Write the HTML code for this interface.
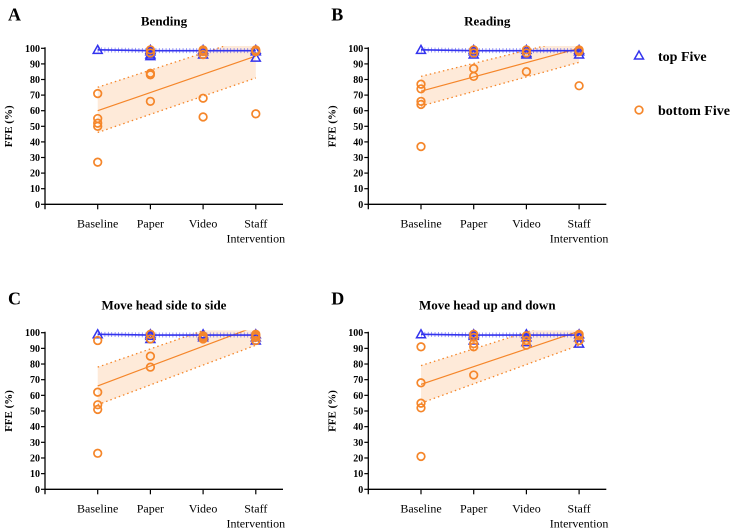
<!DOCTYPE html>
<html><head><meta charset="utf-8"><style>
body{margin:0;background:#fff;}
svg, svg text{font-family:"Liberation Serif","DejaVu Serif","Times New Roman",serif;}
svg{display:block;}
</style></head><body>
<svg id="c" width="740" height="529" viewBox="0 0 740 529"></svg>
<script>
const categories=["Baseline","Paper","Video","Staff Intervention"];
const yTicks=[0,10,20,30,40,50,60,70,80,90,100];
const titles=["Bending","Reading","Move head side to side","Move head up and down"];
const letters=["A","B","C","D"];
const topValsA=[[99],[99,98,96,95],[99,98,96],[99,98,94]];
const topValsB=[[99],[99,98,96],[99,97,96],[99,98,96]];
const topValsC=[[99],[99,98,96],[99,98,97],[99,97,95]];
const topValsD=[[99],[99,98,95],[99,97,94],[99,97,93]];
const botValsA=[[71,55,52,50,27],[99,97,84,83,66],[99,98,96,68,56],[99,98,98,58]];
const botValsB=[[77,74,66,64,37],[99,97,87,82],[99,97,85],[99,98,76]];
const botValsC=[[95,62,54,51,23],[99,96,85,78],[98,97,96],[99,98,97,95]];
const botValsD=[[91,68,55,52,21],[99,97,93,91,73],[98,95,92],[99,98,95]];
const topMean=[99,98.5,98.5,98.5];
const fitStart=[60,72.5,66,67];
const fitEnd=[95,100,104,101];
const upStart=[75,82,78,79];
const upEnd=[108,107,113,111];
const loStart=[46,63,54,55];
const loEnd=[81,91,92,92];
const topVals=[topValsA,topValsB,topValsC,topValsD];
const botVals=[botValsA,botValsB,botValsC,botValsD];
const panels=[{ax:45,y100:48.3,y0:204.3},{ax:368.3,y100:48.3,y0:204.3},{ax:45,y100:332.7,y0:489.3},{ax:368.3,y100:332.7,y0:489.3}];
const NS="http://www.w3.org/2000/svg";
const FONT='"Liberation Serif","DejaVu Serif","Times New Roman",serif';
const svg=document.getElementById('c');
function mk(tag,attrs,parent,text){const e=document.createElementNS(NS,tag);for(const k in attrs)e.setAttribute(k,attrs[k]);if(text!==undefined){e.textContent=text;e.setAttribute('font-family',FONT);}(parent||svg).appendChild(e);return e;}
const OR="#f5862a",BL="#3434ee";
panels.forEach((p,i)=>{
  const g=mk('g',{});
  
  
  const x0=p.ax+52.7;
  const xs=k=>x0+k*52.7;
  const ys=v=>p.y0-(p.y0-p.y100)*v/100;
  const clipId='clip'+i;
  const cp=mk('clipPath',{id:clipId},g);
  mk('rect',{x:p.ax,y:ys(101.5),width:260,height:ys(0)-ys(101.5)+2},cp);
  let t=mk('text',{x:p.ax-37,y:p.y100-28,'font-size':18,'font-weight':'bold'},g,letters[i]);
  
  t=mk('text',{x:p.ax+119,y:p.y100-23,'font-size':13,'font-weight':'bold','text-anchor':'middle'},g,titles[i]);
  
  const xa=xs(0),xb=xs(3);
  const band=mk('polygon',{points:`${xa},${ys(upStart[i])} ${xb},${ys(upEnd[i])} ${xb},${ys(loEnd[i])} ${xa},${ys(loStart[i])}`,fill:'#fde3cc','fill-opacity':0.75,'clip-path':`url(#${clipId})`},g);
  
  let l=mk('line',{x1:xa,y1:ys(upStart[i]),x2:xb,y2:ys(upEnd[i]),stroke:OR,'stroke-width':1.3,'stroke-dasharray':'1.5 3','clip-path':`url(#${clipId})`},g);
  
  l=mk('line',{x1:xa,y1:ys(loStart[i]),x2:xb,y2:ys(loEnd[i]),stroke:OR,'stroke-width':1.3,'stroke-dasharray':'1.5 3','clip-path':`url(#${clipId})`},g);
  
  l=mk('line',{x1:xa,y1:ys(fitStart[i]),x2:xb,y2:ys(fitEnd[i]),stroke:OR,'stroke-width':1.2,'clip-path':`url(#${clipId})`},g);
  
  const pts=topMean.map((v,k)=>xs(k)+','+ys(v)).join(' ');
  l=mk('polyline',{points:pts,fill:'none',stroke:BL,'stroke-width':1.6},g);
  
  l=mk('polyline',{points:pts,fill:'none',stroke:BL,'stroke-width':5,'stroke-dasharray':'0.8 2.6','stroke-opacity':0.6},g);
  
  topVals[i].forEach((arr,k)=>arr.forEach(v=>{const cx=xs(k),cy=ys(v);
    const tr=mk('polygon',{points:`${cx},${cy-4.5} ${cx-4.5},${cy+3.5} ${cx+4.5},${cy+3.5}`,fill:'none',stroke:BL,'stroke-width':1.5},g);
    }));
  botVals[i].forEach((arr,k)=>arr.forEach(v=>{
    const c=mk('circle',{cx:xs(k),cy:ys(v),r:3.8,fill:'none',stroke:OR,'stroke-width':1.7},g);
    }));
  l=mk('line',{x1:p.ax,y1:p.y100-1,x2:p.ax,y2:p.y0+5,stroke:'#000','stroke-width':1.3},g);
  
  l=mk('line',{x1:p.ax,y1:p.y0,x2:p.ax+238,y2:p.y0,stroke:'#000','stroke-width':1.3},g);
  
  yTicks.forEach(v=>{
    mk('line',{x1:p.ax-4,y1:ys(v),x2:p.ax,y2:ys(v),stroke:'#000','stroke-width':1.2},g);
    const tt=mk('text',{x:p.ax-5,y:ys(v)+3.5,'font-size':10,'font-weight':'bold','text-anchor':'end'},g,v);
    
  });
  categories.forEach((c,k)=>{
    mk('line',{x1:xs(k),y1:p.y0,x2:xs(k),y2:p.y0+5,stroke:'#000','stroke-width':1.2},g);
    const parts=c==="Staff Intervention"?["Staff","Intervention"]:[c];
    parts.forEach((s,j)=>{
      const tt=mk('text',{x:xs(k),y:p.y0+23+j*15,'font-size':12,'text-anchor':'middle'},g,s);
      
    });
  });
  t=mk('text',{x:0,y:0,'font-size':11,'font-weight':'bold','text-anchor':'middle',transform:`translate(${p.ax-33},${(p.y0+p.y100)/2}) rotate(-90)`},g,'FFE (%)');
  
});
const lg=mk('g',{});

let e=mk('polygon',{points:'639,51 634.5,59 643.5,59',fill:'none',stroke:BL,'stroke-width':1.5},lg);

e=mk('text',{x:658,y:61,'font-size':14,'font-weight':'bold'},lg,'top Five');

e=mk('circle',{cx:639,cy:110,r:3.8,fill:'none',stroke:OR,'stroke-width':1.7},lg);

e=mk('text',{x:658,y:115,'font-size':14,'font-weight':'bold'},lg,'bottom Five');

</script>
</body></html>
